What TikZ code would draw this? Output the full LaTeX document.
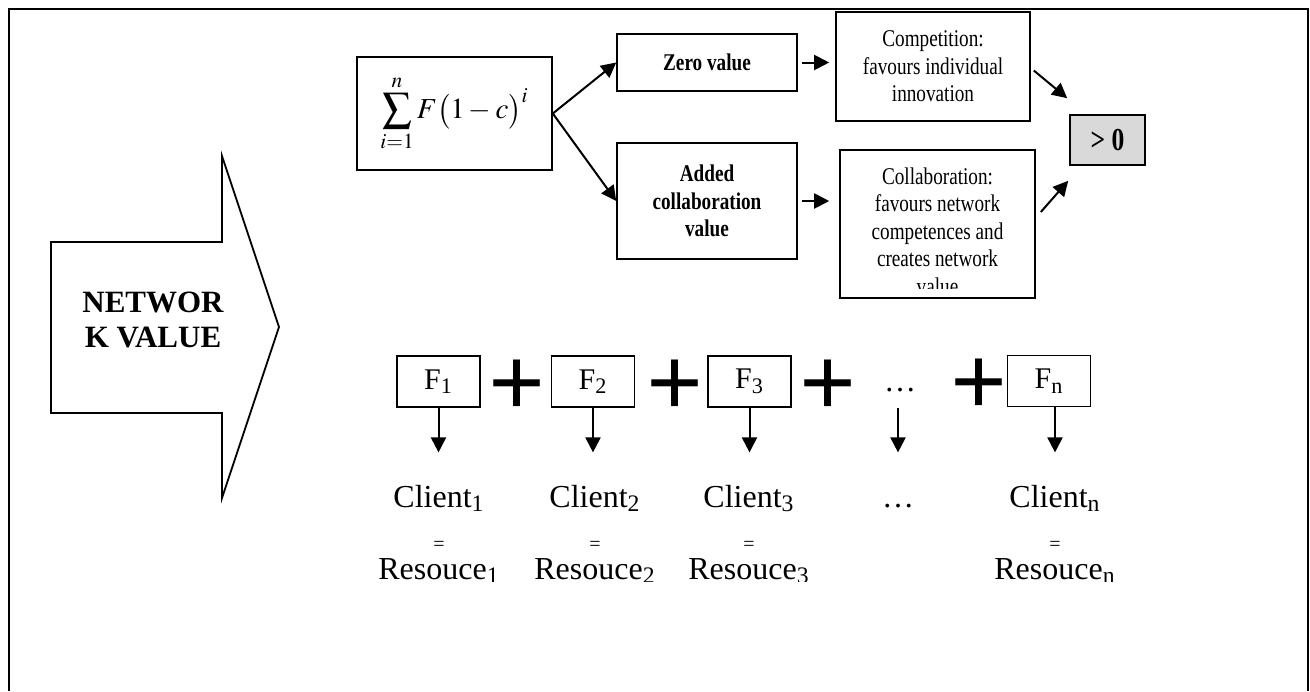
\documentclass[tikz,border=0pt]{standalone}
\usepackage{mathptmx}
\usepackage{fontspec}
\setmainfont{Liberation Serif}
\newfontfamily\narrowfont[FakeStretch=0.8]{Liberation Serif}
\usetikzlibrary{arrows.meta}
\definecolor{gtgray}{RGB}{217,217,217}
\tikzset{vbox/.style={draw,line width=0.8pt,inner sep=0pt,align=center,
           font=\narrowfont\fontsize{12}{13.8}\selectfont},
         bvbox/.style={vbox,font=\narrowfont\bfseries\fontsize{12}{13.8}\selectfont},
         fnode/.style={draw,line width=0.8pt,inner sep=0pt,minimum width=41.5pt,
           minimum height=25.5pt,font=\fontsize{15}{17}\selectfont},
         plusn/.style={inner sep=0pt,font=\bfseries\fontsize{50}{50}\selectfont},
         cnode/.style={inner sep=0pt,anchor=base,font=\fontsize{16}{18}\selectfont},
         eqn/.style={inner sep=0pt,anchor=base,font=\fontsize{10}{12}\selectfont},
         arr/.style={line width=1pt,-{Triangle[length=7.5pt,width=7.5pt]}}
         }

\begin{document}
\begin{tikzpicture}[x=0.5pt,y=-0.5pt] % 1 unit = 1 pixel of the figure
        \useasboundingbox (0,0) rectangle (1310,691);
        \draw[line width=1.2pt] (9,691) -- (9,9) -- (1308,9) -- (1308,691);

        % network value arrow
        \draw[line width=0.9pt] (51,242) -- (222,242) -- (222,156) -- (279,327)
              -- (222,498) -- (222,413) -- (51,413) -- cycle;
        \node[align=center,inner sep=0pt,font=\bfseries\fontsize{15.5}{17.5}\selectfont]
              (nv) at (153,320) {NETWOR\\K VALUE};

        % value of the network
        \node[vbox,minimum width=97.5pt,minimum height=56.5pt,font=\fontsize{14.5}{16}\selectfont]
              (sum) at (454.5,113.5) {$\displaystyle\sum_{i=1}^{n}F\bigl(1-c\bigr)^{i}$};
        \node[bvbox,minimum width=90pt,minimum height=28.5pt] (zero) at (707,62.5) {Zero value};
        \node[bvbox,minimum width=90pt,minimum height=58pt] (added) at (707,201)
              {Added\\collaboration\\value};
        \node[vbox,minimum width=97pt,minimum height=54.5pt] (comp) at (933,66.5)
              {Competition:\\favours individual\\innovation};
        \node[vbox,minimum width=97.5pt,minimum height=74pt] (collab) at (937.5,224) {};
        \begin{scope}
          \clip (collab.north west) rectangle ([yshift=5pt]collab.south east);
          \node[vbox,draw=none] (collabtext) at (937.5,231)
                {Collaboration:\\favours network\\competences and\\creates network\\value};
        \end{scope}
        \node[bvbox,fill=gtgray,minimum width=37.5pt,minimum height=25pt,
              font=\narrowfont\bfseries\fontsize{16}{18}\selectfont] (gt) at (1107.5,140) {> 0};

        \draw[arr] (sum.east) -- (zero.west);
        \draw[arr] (sum.east) -- (added.west);
        \draw[arr,shorten <=2pt,shorten >=3pt] (zero.east) -- (zero.east -| comp.west);
        \draw[arr,shorten <=2pt,shorten >=5pt] (added.east) -- (added.east -| collab.west);
        \draw[arr] ([shift={(3,4)}]comp.east) -- ([shift={(-2,-16)}]gt.north west);
        \draw[arr] ([shift={(5,-12)}]collab.east) -- ([shift={(-1,15)}]gt.south west);

        % one F per client
        \node[fnode] (f1) at (438.5,381.5) {F\textsubscript{1}};
        \node[plusn] (p1) at (517,388) {+};
        \node[fnode] (f2) at (593,381.5) {F\textsubscript{2}};
        \node[plusn] (p2) at (675,388) {+};
        \node[fnode] (f3) at (749.5,381.5) {F\textsubscript{3}};
        \node[plusn] (p3) at (828,388) {+};
        \node[cnode] (fd) at (900,391) {\ldots};
        \node[plusn] (p4) at (979,387.5) {+};
        \node[fnode] (fn) at (1049,381) {F\textsubscript{n}};

        \node[cnode] (c1) at (439,507) {Client\textsubscript{1}};
        \node[cnode] (c2) at (595,507) {Client\textsubscript{2}};
        \node[cnode] (c3) at (749,507) {Client\textsubscript{3}};
        \node[cnode] (cd) at (898,507) {\ldots};
        \node[cnode] (cn) at (1055,507) {Client\textsubscript{n}};

        \draw[arr,shorten >=16pt] (f1.south) -- (f1.south |- c1.north);
        \draw[arr,shorten >=16pt] (f2.south) -- (f2.south |- c1.north);
        \draw[arr,shorten >=16pt] (f3.south) -- (f3.south |- c1.north);
        \draw[arr,shorten >=16pt] (cd.north |- f3.south) -- (cd.north |- c1.north);
        \draw[arr,shorten >=16pt] (fn.south -| cn.north) -- (cn.north);

        \node[eqn] (e1) at (439,550) {=};
        \node[eqn] (e2) at (595,550) {=};
        \node[eqn] (e3) at (749,550) {=};
        \node[eqn] (en) at (1055,550) {=};
        \begin{scope}
          \clip (0,0) rectangle (1310,581);
          \node[cnode] (r1) at (439,579) {Resouce\textsubscript{1}};
          \node[cnode] (r2) at (595,579) {Resouce\textsubscript{2}};
          \node[cnode] (r3) at (749,579) {Resouce\textsubscript{3}};
          \node[cnode] (rn) at (1055,579) {Resouce\textsubscript{n}};
        \end{scope}
\end{tikzpicture}
\end{document}
